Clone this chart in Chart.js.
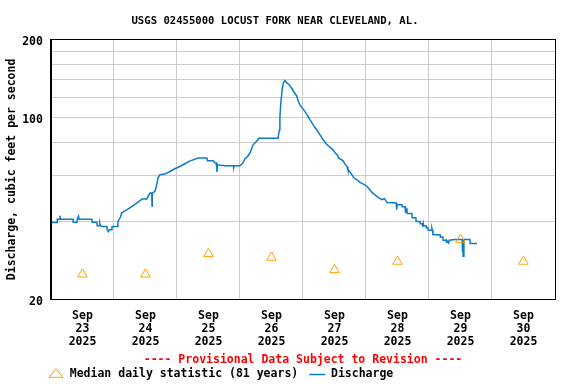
<!DOCTYPE html>
<html>
<head>
<meta charset="utf-8">
<title>USGS 02455000 Locust Fork near Cleveland, AL.</title>
<script src="https://cdn.jsdelivr.net/npm/chart.js@4.4.1/dist/chart.umd.min.js"></script>
<style>
  html, body { margin: 0; padding: 0; background: #fff; }
</style>
</head>
<body>
<canvas id="chart" width="576" height="384"></canvas>
<script>
// days shown on the x axis (each label sits at noon of its day)
const monthLabel = 'Sep';
const yearLabel = '2025';
const dayLabels = ['23', '24', '25', '26', '27', '28', '29', '30'];

// median daily statistic, one value per day
const medianCfs = [25, 25, 30, 29, 26, 28, 34, 28];

// discharge, hours since Sep 23 00:00 and cubic feet per second
const flowHours = [
  0, 2.3, 2.4, 3.3, 3.4, 3.6, 8.4, 8.5, 9.9, 10.0, 10.5, 10.7, 15.6, 15.7, 17.5, 17.6,
  18.5, 18.6, 18.8, 19.4, 21.3, 21.4, 21.9, 22.2, 23.2, 23.3, 25.3, 25.5, 26.5, 27.0,
  29.0, 30.9, 32.8, 34.7, 36.5, 37.7, 38.4, 38.5, 38.6, 39.6, 40.0, 40.8, 41.5, 43.4,
  45.3, 47.2, 49.1, 50.3, 52.6, 56.0, 59.4, 59.6, 61.8, 62.5, 63.0, 63.2, 63.4, 66.3,
  69.5, 69.6, 69.8, 72.0, 73.1, 73.9, 74.7, 75.8, 77.0, 78.5, 79.2, 86.5, 87.0, 87.2,
  87.5, 88.1, 88.5, 89.1, 89.8, 90.8, 91.7, 92.6, 93.6, 94.2, 95.1, 96.1, 97.4, 98.7,
  99.9, 101.2, 102.5, 103.7, 105.0, 106.3, 107.5, 108.3, 109.0, 109.7, 111.2, 112.0,
  112.8, 113.1, 113.9, 114.7, 115.4, 116.6, 117.7, 119.6, 120.4, 121.5, 122.3, 123.4,
  124.6, 126.1, 127.0, 127.3, 128.0, 131.5, 131.7, 131.9, 133.7, 133.8, 134.9, 135.0,
  135.2, 135.6, 135.7, 137.5, 137.6, 139.0, 139.1, 140.6, 140.7, 141.5, 141.6, 141.8,
  141.9, 142.9, 143.0, 143.6, 143.7, 145.0, 145.1, 145.3, 145.5, 148.2, 148.3, 149.3,
  149.4, 150.5, 150.6, 150.8, 151.5, 151.7, 153.9, 156.6, 156.7, 156.9, 157.0, 157.3,
  159.6, 159.7, 162.3
];
const flowCfs = [
  39.5, 39.5, 40.7, 40.7, 42.0, 40.7, 40.7, 39.6, 39.6, 40.7, 41.8, 40.7, 40.7, 39.6, 39.6, 38.4,
  38.4, 39.2, 38.4, 38.2, 38.2, 37.1, 36.5, 37.1, 37.1, 38.2, 38.2, 39.9, 41.5, 43.1,
  44.3, 45.6, 47.0, 48.7, 48.7, 51.3, 51.3, 45.6, 51.3, 52.1, 53.6, 58.8, 60.3, 60.7,
  62.1, 63.6, 64.9, 65.9, 67.9, 69.9, 69.9, 68.3, 68.3, 66.9, 66.9, 61.9, 65.9, 65.3,
  65.3, 64.2, 65.3, 65.3, 66.9, 69.5, 70.5, 73.1, 78.6, 81.5, 83.3, 83.3, 89.8, 99.8,
  112, 129.7, 135.6, 138.8, 136.3, 133.6, 129.7, 125.2, 121.2, 115.3, 111.0, 107.8, 103.1, 98.0,
  93.8, 89.8, 85.9, 82.2, 79.0, 76.8, 75.2, 73.1, 72.0, 69.9, 68.4, 66.3,
  64.9, 63.0, 61.8, 60.3, 58.6, 57.7, 56.4, 55.2, 54.4, 52.8, 51.6, 50.5,
  49.4, 48.4, 48.9, 48.4, 47.2, 47.0, 44.3, 46.3, 46.3, 45.4, 45.4, 43.0,
  44.6, 44.6, 42.8, 42.8, 41.2, 41.2, 39.9, 39.9, 39.1, 39.1, 38.0, 39.1,
  38.4, 38.4, 37.7, 37.7, 36.9, 36.9, 37.6, 36.9, 35.5, 35.5, 34.8, 34.8,
  33.8, 33.8, 33.0, 33.8, 33.0, 33.8, 34.0, 34.0, 30.5, 34.0, 29.3, 34.0,
  34.0, 32.8, 32.8
];

// y axis grid values and the ones that get a label
const yGridValues = [20, 30, 40, 50, 60, 70, 80, 90, 100, 110, 120, 130, 140, 150, 160, 170, 180, 190, 200];
const yLabelValues = [20, 100, 200];

const FONT = '"DejaVu Sans Mono", "Liberation Mono", monospace';
const BLUE = '#0b7cc9';
const ORANGE = '#ffa200';
const GRID = '#cccccc';

const xTickHours = [];
for (let h = 0; h <= dayLabels.length * 24; h += 12) xTickHours.push(h);

// nudges the title and legend to where the original puts them, draws the box
const framePlugin = {
  id: 'frame',
  afterLayout(chart) {
    if (chart.titleBlock) {
      chart.titleBlock.left -= 2.5;
      chart.titleBlock.right -= 2.5;
    }
    if (chart.legend) {
      chart.legend.left = 37;
    }
  },
  afterDraw(chart) {
    const { ctx, chartArea: a } = chart;
    ctx.save();
    ctx.strokeStyle = '#000';
    ctx.lineWidth = 1;
    ctx.strokeRect(Math.round(a.left) + 0.5, Math.round(a.top) + 0.5,
      Math.round(a.right - a.left), Math.round(a.bottom - a.top));
    ctx.restore();
  }
};

new Chart(document.getElementById('chart'), {
  type: 'line',
  data: {
    datasets: [
      {
        label: 'Median daily statistic (81 years)',
        data: medianCfs.map((v, i) => ({ x: 12 + i * 24, y: v })),
        showLine: false,
        pointStyle: 'triangle',
        pointRadius: 5.5,
        pointBorderWidth: 1,
        pointBorderColor: ORANGE,
        pointBackgroundColor: 'rgba(0,0,0,0)',
        borderColor: ORANGE,
        backgroundColor: 'rgba(0,0,0,0)'
      },
      {
        label: 'Discharge',
        data: flowHours.map((h, i) => ({ x: h, y: flowCfs[i] })),
        borderColor: BLUE,
        borderWidth: 1.5,
        pointRadius: 0,
        pointStyle: 'line',
        pointBorderColor: BLUE,
        pointBorderWidth: 1.5,
        pointBackgroundColor: BLUE,
        fill: false,
        tension: 0
      }
    ]
  },
  options: {
    responsive: false,
    animation: false,
    events: [],
    layout: { padding: { left: 0, right: 21, top: 0, bottom: -6.25 } },
    scales: {
      x: {
        type: 'linear',
        min: 0,
        max: dayLabels.length * 24,
        afterBuildTicks: (scale) => { scale.ticks = xTickHours.map(v => ({ value: v })); },
        ticks: {
          autoSkip: false,
          maxRotation: 0,
          minRotation: 0,
          padding: 10.5,
          color: '#000',
          font: { family: FONT, size: 11.5, weight: 'bold', lineHeight: '13px' },
          callback: (value) => {
            if (value % 24 !== 12) return '';
            return [monthLabel, dayLabels[(value - 12) / 24], yearLabel];
          }
        },
        grid: {
          drawTicks: false,
          color: (c) => (c.tick && c.tick.value % 24 === 0 ? GRID : 'rgba(0,0,0,0)')
        },
        border: { display: true, color: '#000', width: 1 },
        title: {
          display: true,
          text: '---- Provisional Data Subject to Revision ----',
          color: '#ff0000',
          font: { family: FONT, size: 11.5, weight: 'bold', lineHeight: '13px' },
          padding: { top: -5.5, bottom: -9.25 }
        }
      },
      y: {
        type: 'logarithmic',
        min: 20,
        max: 200,
        afterBuildTicks: (scale) => { scale.ticks = yGridValues.map(v => ({ value: v })); },
        ticks: {
          padding: 8,
          labelOffset: 2.5,
          color: '#000',
          font: { family: FONT, size: 11.5, weight: 'bold' },
          callback: (value) => (yLabelValues.includes(value) ? String(value) : '')
        },
        grid: { drawTicks: false, color: GRID },
        border: { display: true, color: '#000', width: 1 },
        title: {
          display: true,
          text: 'Discharge, cubic feet per second',
          color: '#000',
          font: { family: FONT, size: 11.5, weight: 'bold', lineHeight: 1.2 },
          padding: { top: 4.8, bottom: -4.4 }
        }
      }
    },
    plugins: {
      title: {
        display: true,
        text: 'USGS 02455000 LOCUST FORK NEAR CLEVELAND, AL.',
        color: '#000',
        font: { family: FONT, size: 10.6, weight: 'bold', lineHeight: 1.2 },
        padding: { top: 14.5, bottom: 12.1 }
      },
      legend: {
        position: 'bottom',
        align: 'start',
        labels: {
          usePointStyle: true,
          pointStyleWidth: 16,
          boxHeight: 8,
          padding: 11,
          color: '#000',
          font: { family: FONT, size: 11.5, weight: 'bold' }
        }
      },
      tooltip: { enabled: false }
    }
  },
  plugins: [framePlugin]
});
</script>
</body>
</html>
